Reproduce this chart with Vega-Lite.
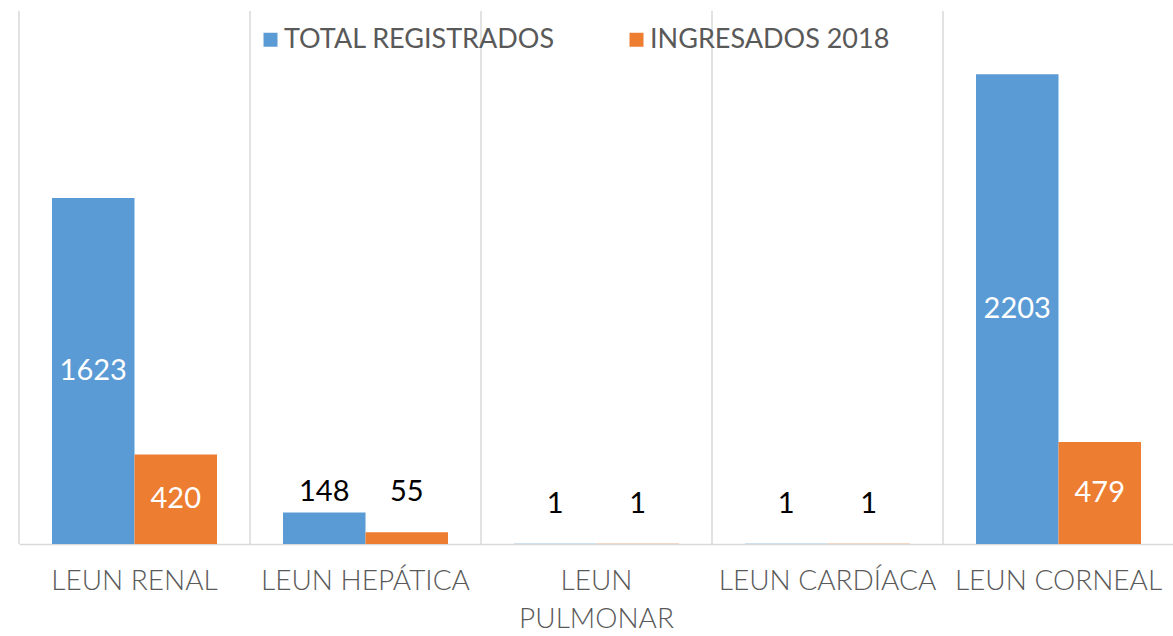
{
  "$schema": "https://vega.github.io/schema/vega-lite/v6.json",
  "width": 1155,
  "height": 533,
  "padding": {"left": 18, "top": 10, "right": 0, "bottom": 0},
  "autosize": {"type": "pad"},
  "background": "white",
  "config": {"view": {"stroke": null}, "font": "Lato"},
  "data": {"values": [
    {"organo": "LEUN RENAL", "serie": "TOTAL REGISTRADOS", "valor": 1623},
    {"organo": "LEUN RENAL", "serie": "INGRESADOS 2018", "valor": 420},
    {"organo": "LEUN HEPÁTICA", "serie": "TOTAL REGISTRADOS", "valor": 148},
    {"organo": "LEUN HEPÁTICA", "serie": "INGRESADOS 2018", "valor": 55},
    {"organo": "LEUN PULMONAR", "serie": "TOTAL REGISTRADOS", "valor": 1},
    {"organo": "LEUN PULMONAR", "serie": "INGRESADOS 2018", "valor": 1},
    {"organo": "LEUN CARDÍACA", "serie": "TOTAL REGISTRADOS", "valor": 1},
    {"organo": "LEUN CARDÍACA", "serie": "INGRESADOS 2018", "valor": 1},
    {"organo": "LEUN CORNEAL", "serie": "TOTAL REGISTRADOS", "valor": 2203},
    {"organo": "LEUN CORNEAL", "serie": "INGRESADOS 2018", "valor": 479}
  ]},
  "encoding": {
    "x": {
      "field": "organo", "type": "nominal", "sort": null,
      "scale": {"paddingInner": 0, "paddingOuter": 0},
      "axis": {
        "title": null, "labelAngle": 0, "ticks": false, "grid": false,
        "domainColor": "#d9d9d9", "domainWidth": 1.5,
        "labelFontSize": 28, "labelColor": "#595959", "labelFont": "Lato", "labelFontWeight": 300,
        "labelPadding": 23, "labelLimit": 0, "labelOverlap": false, "labelBound": false, "labelFlush": false,
        "labelExpr": "datum.label == 'LEUN PULMONAR' ? ['LEUN', 'PULMONAR'] : datum.label",
        "labelLineHeight": 38
      }
    }
  },
  "layer": [
    {
      "transform": [{"filter": "datum.serie === 'TOTAL REGISTRADOS'"}],
      "mark": {"type": "rule", "color": "#d9d9d9", "strokeWidth": 1.5},
      "encoding": {
        "x": {"field": "organo", "type": "nominal", "sort": null, "bandPosition": 0}
      }
    },
    {
      "mark": {"type": "bar"},
      "encoding": {
        "xOffset": {"field": "serie", "type": "nominal", "sort": ["TOTAL REGISTRADOS", "INGRESADOS 2018"], "scale": {"paddingInner": 0, "paddingOuter": 0.4}},
        "y": {"field": "valor", "type": "quantitative", "scale": {"domain": [0, 2500]}, "axis": null},
        "color": {
          "field": "serie", "type": "nominal",
          "scale": {"domain": ["TOTAL REGISTRADOS", "INGRESADOS 2018"], "range": ["#5B9BD5", "#ED7D31"]},
          "legend": {
            "orient": "none", "legendX": 238, "legendY": 15, "direction": "horizontal",
            "title": null, "symbolType": "square", "symbolSize": 196, "symbolStrokeWidth": 0,
            "labelFontSize": 27, "labelColor": "#595959", "labelFont": "Lato", "labelFontWeight": 400,
            "columnPadding": 68, "labelOffset": 0, "labelLimit": 0
          }
        }
      }
    },
    {
      "transform": [{"filter": "datum.valor > 300"}],
      "mark": {"type": "text", "color": "white", "baseline": "middle", "fontSize": 29, "font": "Lato", "fontWeight": 400},
      "encoding": {
        "xOffset": {"field": "serie", "type": "nominal", "sort": ["TOTAL REGISTRADOS", "INGRESADOS 2018"], "scale": {"paddingInner": 0, "paddingOuter": 0.4}},
        "y": {"field": "valor", "type": "quantitative", "scale": {"domain": [0, 5000]}, "axis": null},
        "text": {"field": "valor", "type": "quantitative"}
      }
    },
    {
      "transform": [{"filter": "datum.valor > 1 && datum.valor < 300"}],
      "mark": {"type": "text", "color": "black", "baseline": "bottom", "fontSize": 29, "font": "Lato", "fontWeight": 400},
      "encoding": {
        "xOffset": {"field": "serie", "type": "nominal", "sort": ["TOTAL REGISTRADOS", "INGRESADOS 2018"], "scale": {"paddingInner": 0, "paddingOuter": 0.4}},
        "y": {"datum": 175, "type": "quantitative", "scale": {"domain": [0, 2500]}, "axis": null},
        "text": {"field": "valor", "type": "quantitative"}
      }
    },
    {
      "transform": [{"filter": "datum.valor == 1"}],
      "mark": {"type": "text", "color": "black", "baseline": "bottom", "fontSize": 29, "font": "Lato", "fontWeight": 400},
      "encoding": {
        "xOffset": {"field": "serie", "type": "nominal", "sort": ["TOTAL REGISTRADOS", "INGRESADOS 2018"], "scale": {"paddingInner": 0, "paddingOuter": 0.4}},
        "y": {"datum": 118, "type": "quantitative", "scale": {"domain": [0, 2500]}, "axis": null},
        "text": {"field": "valor", "type": "quantitative"}
      }
    }
  ],
  "resolve": {"scale": {"y": "independent"}}
}
